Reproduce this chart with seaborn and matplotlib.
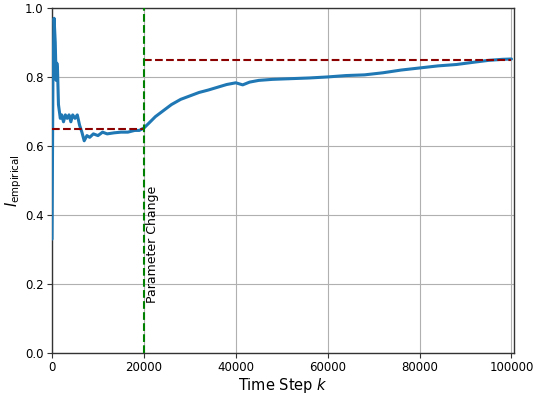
import matplotlib
matplotlib.use("Agg")
import matplotlib.pyplot as plt
import seaborn as sns
import numpy as np

k = [0, 200, 450, 700, 900, 1050, 1200, 1400, 1600, 1800, 2100, 2500, 2900, 3300,
     3700, 4100, 4500, 5000, 5500, 6000, 6500, 7000, 7600, 8200, 9000, 10000, 11000,
     12000, 13500, 15000, 16500, 18000, 19000, 20000, 21000, 22500, 24000, 26000,
     28000, 30000, 32000, 34000, 36000, 38000, 40000, 41500, 43000, 45000, 48000,
     52000, 56000, 60000, 64000, 68000, 72000, 76000, 80000, 84000, 88000, 92000,
     95000, 98000, 100000]
i_emp = [0.33, 0.80, 0.97, 0.90, 0.79, 0.84, 0.82, 0.72, 0.70, 0.68, 0.69, 0.67, 0.69,
         0.68, 0.69, 0.67, 0.69, 0.68, 0.69, 0.66, 0.64, 0.615, 0.63, 0.625, 0.635, 0.63,
         0.64, 0.635, 0.638, 0.64, 0.64, 0.645, 0.645, 0.652, 0.665, 0.685, 0.70, 0.72,
         0.735, 0.745, 0.755, 0.762, 0.77, 0.778, 0.783, 0.777, 0.785, 0.79, 0.793, 0.795,
         0.797, 0.80, 0.804, 0.806, 0.812, 0.82, 0.826, 0.832, 0.836, 0.843, 0.848, 0.851,
         0.852]

change_k = 20000
target_before = 0.65
target_after = 0.85
k_end = 100000

sns.set_style("ticks")
plt.rcParams["font.family"] = ["DejaVu Sans"]

fig = plt.figure(figsize=(5.38, 3.96), dpi=100)
ax = fig.add_axes([0.0967, 0.1086, 0.8583, 0.8714])

sns.lineplot(x=k, y=i_emp, ax=ax, color="#1f77b4", linewidth=2.2, sort=False,
             estimator=None, zorder=3)
ax.plot([0, change_k], [target_before, target_before], color="darkred",
        linestyle="--", linewidth=1.5, zorder=4)
ax.plot([change_k, k_end], [target_after, target_after], color="darkred",
        linestyle="--", linewidth=1.5, zorder=4)
ax.axvline(change_k, color="green", linestyle="--", linewidth=1.5, zorder=4)
ax.text(change_k + 400, 0.316, "Parameter Change", rotation=90, ha="left",
        va="center", fontsize=9, color="black")

ax.set_xlim(0, 100500)
ax.set_ylim(0, 1.0)
ax.set_xticks([0, 20000, 40000, 60000, 80000, 100000])
ax.set_yticks([0.0, 0.2, 0.4, 0.6, 0.8, 1.0])
ax.grid(True, color="#b0b0b0", linewidth=0.8)
ax.set_axisbelow(True)
ax.tick_params(labelsize=8.5, color="#333333", labelcolor="black", length=3.5, pad=2.5)
for s in ax.spines.values():
    s.set_color("#333333")
    s.set_linewidth(1.0)
ax.set_xlabel("Time Step $k$", fontsize=10.5, color="black", labelpad=1)
ax.set_ylabel(r"$I_{\mathrm{empirical}}$", fontsize=10.5, color="black", labelpad=1)

fig.savefig("out.png", dpi=100)
